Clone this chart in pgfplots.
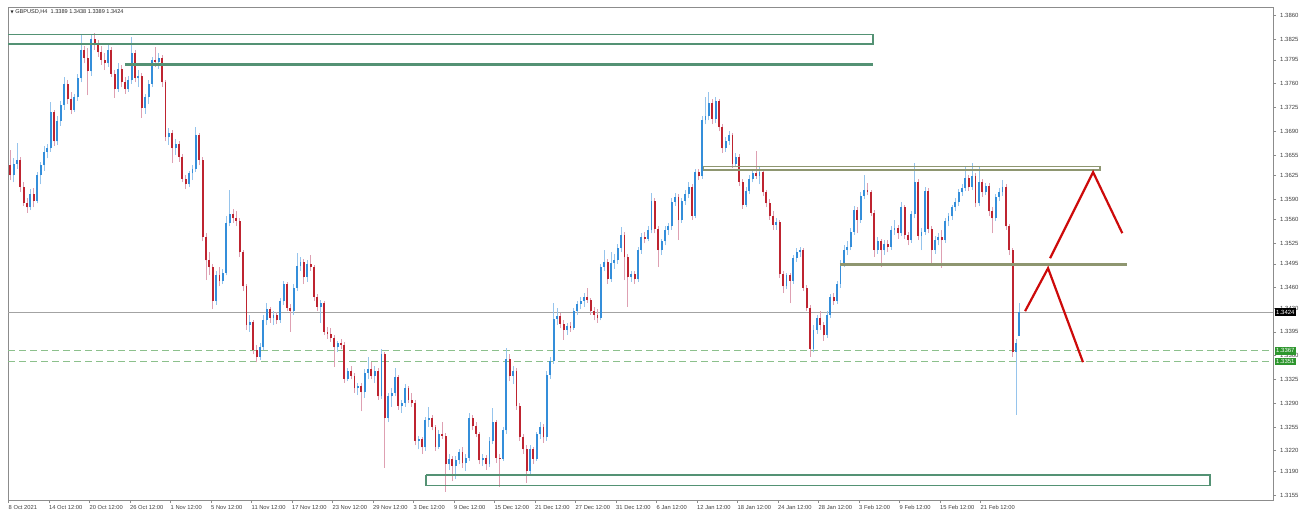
\documentclass[border=0pt]{standalone}
\usepackage{pgfplots}
\usepackage{pgfplotstable}
\pgfplotsset{compat=1.18}
\usepackage{fontspec}
\setmainfont{Liberation Sans}
\newfontfamily\dejavu{DejaVu Sans}
\definecolor{upbody}{RGB}{52,142,218}
\definecolor{upwick}{RGB}{150,196,236}
\definecolor{dnbody}{RGB}{190,36,48}
\definecolor{dnwick}{RGB}{222,160,178}
\definecolor{zonegreen}{RGB}{84,146,116}
\definecolor{olivez}{RGB}{142,150,112}
\definecolor{dashgreen}{RGB}{140,192,140}
\definecolor{lblgreen}{RGB}{46,150,46}
\definecolor{arrowred}{RGB}{205,10,10}
\definecolor{framegray}{RGB}{140,140,140}

\pgfplotstableread{
x o h l c
1 1.3640 1.3662 1.3618 1.3625
3 1.3625 1.3650 1.3615 1.3642
5 1.3642 1.3673 1.3635 1.3648
7 1.3648 1.3652 1.3600 1.3608
9 1.3608 1.3615 1.3580 1.3585
11 1.3585 1.3592 1.3570 1.3578
13 1.3578 1.3605 1.3574 1.3598
15 1.3598 1.3606 1.3578 1.3588
17 1.3588 1.3630 1.3584 1.3625
19 1.3625 1.3645 1.3612 1.3640
21 1.3640 1.3668 1.3632 1.3660
23 1.3660 1.3672 1.3650 1.3665
25 1.3665 1.3733 1.3660 1.3718
27 1.3718 1.3722 1.3668 1.3675
29 1.3675 1.3712 1.3670 1.3705
31 1.3705 1.3735 1.3698 1.3728
33 1.3728 1.3770 1.3722 1.3760
35 1.3760 1.3765 1.3730 1.3738
37 1.3738 1.3748 1.3715 1.3722
39 1.3722 1.3745 1.3718 1.3740
41 1.3740 1.3775 1.3735 1.3768
43 1.3768 1.3832 1.3762 1.3810
45 1.3810 1.3815 1.3790 1.3798
47 1.3798 1.3812 1.3743 1.3778
49 1.3778 1.3832 1.3772 1.3826
51 1.3826 1.3835 1.3810 1.3818
53 1.3818 1.3825 1.3800 1.3806
55 1.3806 1.3815 1.3788 1.3795
57 1.3795 1.3805 1.3780 1.3790
59 1.3790 1.3818 1.3785 1.3810
61 1.3810 1.3814 1.3770 1.3775
63 1.3775 1.3780 1.3739 1.3752
65 1.3752 1.3790 1.3748 1.3782
67 1.3782 1.3788 1.3755 1.3762
69 1.3762 1.3770 1.3745 1.3752
71 1.3752 1.3772 1.3748 1.3765
73 1.3765 1.3829 1.3760 1.3805
75 1.3805 1.3810 1.3762 1.3768
77 1.3768 1.3780 1.3755 1.3772
79 1.3772 1.3776 1.3710 1.3724
81 1.3724 1.3745 1.3716 1.3740
83 1.3740 1.3765 1.3730 1.3760
85 1.3760 1.3800 1.3755 1.3795
87 1.3795 1.3814 1.3785 1.3792
89 1.3792 1.3805 1.3782 1.3798
91 1.3798 1.3802 1.3755 1.3762
93 1.3762 1.3766 1.3675 1.3682
95 1.3682 1.3695 1.3670 1.3688
97 1.3688 1.3692 1.3643 1.3665
99 1.3665 1.3678 1.3655 1.3672
101 1.3672 1.3676 1.3645 1.3652
103 1.3652 1.3656 1.3615 1.3620
105 1.3620 1.3626 1.3605 1.3612
107 1.3612 1.3632 1.3608 1.3628
109 1.3628 1.3640 1.3618 1.3635
111 1.3635 1.3696 1.3630 1.3684
113 1.3684 1.3688 1.3640 1.3648
115 1.3648 1.3652 1.3528 1.3535
117 1.3535 1.3540 1.3471 1.3500
119 1.3500 1.3512 1.3478 1.3490
121 1.3490 1.3495 1.3428 1.3440
123 1.3440 1.3485 1.3435 1.3478
125 1.3478 1.3490 1.3462 1.3470
127 1.3470 1.3488 1.3465 1.3482
129 1.3482 1.3565 1.3478 1.3555
131 1.3555 1.3604 1.3550 1.3568
133 1.3568 1.3575 1.3555 1.3562
135 1.3562 1.3572 1.3550 1.3558
137 1.3558 1.3562 1.3505 1.3512
139 1.3512 1.3515 1.3455 1.3462
141 1.3462 1.3466 1.3398 1.3405
143 1.3405 1.3420 1.3395 1.3410
145 1.3410 1.3412 1.3362 1.3368
147 1.3368 1.3375 1.3350 1.3358
149 1.3358 1.3378 1.3354 1.3372
151 1.3372 1.3420 1.3368 1.3412
153 1.3412 1.3437 1.3405 1.3428
155 1.3428 1.3432 1.3408 1.3415
157 1.3415 1.3425 1.3405 1.3420
159 1.3420 1.3424 1.3406 1.3412
161 1.3412 1.3445 1.3408 1.3440
163 1.3440 1.3470 1.3435 1.3465
165 1.3465 1.3468 1.3425 1.3430
167 1.3430 1.3436 1.3395 1.3426
169 1.3426 1.3465 1.3420 1.3460
171 1.3460 1.3511 1.3455 1.3492
173 1.3492 1.3505 1.3485 1.3498
175 1.3498 1.3502 1.3465 1.3475
177 1.3475 1.3500 1.3468 1.3495
179 1.3495 1.3508 1.3485 1.3490
181 1.3490 1.3494 1.3440 1.3446
183 1.3446 1.3450 1.3425 1.3432
185 1.3432 1.3442 1.3408 1.3438
187 1.3438 1.3441 1.3390 1.3395
189 1.3395 1.3402 1.3385 1.3392
191 1.3392 1.3400 1.3380 1.3386
193 1.3386 1.3390 1.3343 1.3372
195 1.3372 1.3382 1.3365 1.3378
197 1.3378 1.3385 1.3370 1.3376
199 1.3376 1.3380 1.3320 1.3326
201 1.3326 1.3342 1.3322 1.3338
203 1.3338 1.3345 1.3325 1.3330
205 1.3330 1.3334 1.3305 1.3312
207 1.3312 1.3320 1.3302 1.3315
209 1.3315 1.3320 1.3278 1.3306
211 1.3306 1.3340 1.3298 1.3335
213 1.3335 1.3358 1.3325 1.3340
215 1.3340 1.3350 1.3325 1.3330
217 1.3330 1.3345 1.3320 1.3338
219 1.3338 1.3342 1.3295 1.3300
221 1.3300 1.3369 1.3296 1.3362
223 1.3362 1.3366 1.3195 1.3268
225 1.3268 1.3305 1.3262 1.3300
227 1.3300 1.3312 1.3285 1.3305
229 1.3305 1.3342 1.3300 1.3328
231 1.3328 1.3332 1.3280 1.3286
233 1.3286 1.3295 1.3276 1.3290
235 1.3290 1.3318 1.3285 1.3312
237 1.3312 1.3316 1.3290 1.3295
239 1.3295 1.3305 1.3285 1.3290
241 1.3290 1.3294 1.3228 1.3235
243 1.3235 1.3242 1.3222 1.3238
245 1.3238 1.3240 1.3215 1.3225
247 1.3225 1.3270 1.3220 1.3265
249 1.3265 1.3285 1.3255 1.3268
251 1.3268 1.3272 1.3250 1.3255
253 1.3255 1.3258 1.3220 1.3226
255 1.3226 1.3250 1.3222 1.3245
257 1.3245 1.3262 1.3238 1.3242
259 1.3242 1.3246 1.3160 1.3200
261 1.3200 1.3215 1.3192 1.3208
263 1.3208 1.3212 1.3175 1.3198
265 1.3198 1.3212 1.3178 1.3206
267 1.3206 1.3222 1.3200 1.3218
269 1.3218 1.3225 1.3195 1.3202
271 1.3202 1.3215 1.3190 1.3210
273 1.3210 1.3276 1.3205 1.3268
275 1.3268 1.3272 1.3250 1.3256
277 1.3256 1.3262 1.3240 1.3245
279 1.3245 1.3248 1.3200 1.3206
281 1.3206 1.3215 1.3198 1.3210
283 1.3210 1.3214 1.3192 1.3200
285 1.3200 1.3240 1.3196 1.3235
287 1.3235 1.3283 1.3230 1.3262
289 1.3262 1.3266 1.3202 1.3210
291 1.3210 1.3215 1.3167 1.3208
293 1.3208 1.3255 1.3205 1.3250
295 1.3250 1.3371 1.3245 1.3355
297 1.3355 1.3362 1.3322 1.3330
299 1.3330 1.3345 1.3318 1.3338
301 1.3338 1.3342 1.3280 1.3286
303 1.3286 1.3290 1.3235 1.3240
305 1.3240 1.3245 1.3215 1.3222
307 1.3222 1.3228 1.3173 1.3190
309 1.3190 1.3228 1.3185 1.3222
311 1.3222 1.3226 1.3200 1.3208
313 1.3208 1.3248 1.3205 1.3244
315 1.3244 1.3262 1.3238 1.3255
317 1.3255 1.3260 1.3232 1.3240
319 1.3240 1.3338 1.3235 1.3332
321 1.3332 1.3358 1.3326 1.3352
323 1.3352 1.3437 1.3348 1.3414
325 1.3414 1.3430 1.3405 1.3418
327 1.3418 1.3422 1.3400 1.3406
329 1.3406 1.3412 1.3383 1.3398
331 1.3398 1.3408 1.3390 1.3404
333 1.3404 1.3410 1.3395 1.3400
335 1.3400 1.3430 1.3398 1.3425
337 1.3425 1.3440 1.3420 1.3436
339 1.3436 1.3446 1.3428 1.3440
341 1.3440 1.3452 1.3432 1.3446
343 1.3446 1.3459 1.3438 1.3442
345 1.3442 1.3445 1.3420 1.3425
347 1.3425 1.3432 1.3412 1.3420
349 1.3420 1.3428 1.3408 1.3416
351 1.3416 1.3495 1.3412 1.3490
353 1.3490 1.3515 1.3484 1.3498
355 1.3498 1.3502 1.3466 1.3472
357 1.3472 1.3512 1.3468 1.3496
359 1.3496 1.3510 1.3488 1.3500
361 1.3500 1.3524 1.3495 1.3518
363 1.3518 1.3549 1.3512 1.3538
365 1.3538 1.3542 1.3471 1.3505
367 1.3505 1.3510 1.3432 1.3475
369 1.3475 1.3485 1.3468 1.3480
371 1.3480 1.3484 1.3465 1.3472
373 1.3472 1.3520 1.3468 1.3515
375 1.3515 1.3540 1.3510 1.3535
377 1.3535 1.3542 1.3525 1.3532
379 1.3532 1.3550 1.3528 1.3545
381 1.3545 1.3599 1.3540 1.3588
383 1.3588 1.3592 1.3540 1.3546
385 1.3546 1.3550 1.3490 1.3515
387 1.3515 1.3532 1.3508 1.3528
389 1.3528 1.3550 1.3522 1.3545
391 1.3545 1.3555 1.3538 1.3550
393 1.3550 1.3592 1.3545 1.3586
395 1.3586 1.3599 1.3580 1.3594
397 1.3594 1.3598 1.3530 1.3560
399 1.3560 1.3592 1.3555 1.3588
401 1.3588 1.3604 1.3582 1.3598
403 1.3598 1.3615 1.3592 1.3608
405 1.3608 1.3612 1.3560 1.3566
407 1.3566 1.3635 1.3562 1.3630
409 1.3630 1.3634 1.3618 1.3624
411 1.3624 1.3712 1.3620 1.3706
413 1.3706 1.3740 1.3700 1.3712
415 1.3712 1.3748 1.3706 1.3732
417 1.3732 1.3738 1.3700 1.3708
419 1.3708 1.3740 1.3702 1.3734
421 1.3734 1.3738 1.3690 1.3696
423 1.3696 1.3700 1.3658 1.3665
425 1.3665 1.3682 1.3660 1.3676
427 1.3676 1.3690 1.3670 1.3684
429 1.3684 1.3688 1.3636 1.3642
431 1.3642 1.3658 1.3638 1.3652
433 1.3652 1.3656 1.3610 1.3616
435 1.3616 1.3620 1.3576 1.3582
437 1.3582 1.3608 1.3578 1.3602
439 1.3602 1.3625 1.3598 1.3620
441 1.3620 1.3635 1.3615 1.3628
443 1.3628 1.3661 1.3620 1.3624
445 1.3624 1.3638 1.3612 1.3630
447 1.3630 1.3633 1.3595 1.3600
449 1.3600 1.3604 1.3578 1.3584
451 1.3584 1.3590 1.3560 1.3566
453 1.3566 1.3572 1.3545 1.3552
455 1.3552 1.3562 1.3545 1.3556
457 1.3556 1.3560 1.3474 1.3480
459 1.3480 1.3484 1.3452 1.3462
461 1.3462 1.3482 1.3458 1.3478
463 1.3478 1.3482 1.3437 1.3470
465 1.3470 1.3508 1.3466 1.3504
467 1.3504 1.3518 1.3498 1.3512
469 1.3512 1.3520 1.3505 1.3516
471 1.3516 1.3519 1.3455 1.3460
473 1.3460 1.3464 1.3425 1.3430
475 1.3430 1.3434 1.3358 1.3370
477 1.3370 1.3405 1.3365 1.3398
479 1.3398 1.3420 1.3392 1.3415
481 1.3415 1.3425 1.3398 1.3405
483 1.3405 1.3410 1.3382 1.3390
485 1.3390 1.3425 1.3386 1.3420
487 1.3420 1.3450 1.3415 1.3446
489 1.3446 1.3452 1.3435 1.3440
491 1.3440 1.3470 1.3436 1.3466
493 1.3466 1.3500 1.3460 1.3495
495 1.3495 1.3522 1.3490 1.3515
497 1.3515 1.3528 1.3508 1.3520
499 1.3520 1.3548 1.3515 1.3542
501 1.3542 1.3580 1.3538 1.3574
503 1.3574 1.3578 1.3540 1.3560
505 1.3560 1.3600 1.3555 1.3595
507 1.3595 1.3626 1.3590 1.3604
509 1.3604 1.3614 1.3596 1.3600
511 1.3600 1.3604 1.3565 1.3570
513 1.3570 1.3574 1.3505 1.3515
515 1.3515 1.3535 1.3510 1.3528
517 1.3528 1.3532 1.3490 1.3515
519 1.3515 1.3530 1.3508 1.3524
521 1.3524 1.3530 1.3512 1.3520
523 1.3520 1.3550 1.3516 1.3545
525 1.3545 1.3560 1.3538 1.3548
527 1.3548 1.3552 1.3532 1.3540
529 1.3540 1.3586 1.3536 1.3578
531 1.3578 1.3582 1.3532 1.3538
533 1.3538 1.3542 1.3522 1.3530
535 1.3530 1.3572 1.3526 1.3568
537 1.3568 1.3643 1.3562 1.3615
539 1.3615 1.3620 1.3530 1.3536
541 1.3536 1.3548 1.3515 1.3542
543 1.3542 1.3608 1.3538 1.3602
545 1.3602 1.3606 1.3540 1.3546
547 1.3546 1.3550 1.3496 1.3515
549 1.3515 1.3536 1.3510 1.3530
551 1.3530 1.3540 1.3522 1.3534
553 1.3534 1.3545 1.3489 1.3530
555 1.3530 1.3562 1.3526 1.3558
557 1.3558 1.3570 1.3550 1.3565
559 1.3565 1.3582 1.3560 1.3578
561 1.3578 1.3592 1.3572 1.3586
563 1.3586 1.3605 1.3580 1.3600
565 1.3600 1.3612 1.3595 1.3606
567 1.3606 1.3638 1.3602 1.3622
569 1.3622 1.3626 1.3602 1.3608
571 1.3608 1.3643 1.3604 1.3624
573 1.3624 1.3628 1.3578 1.3584
575 1.3584 1.3638 1.3580 1.3616
577 1.3616 1.3620 1.3594 1.3600
579 1.3600 1.3614 1.3596 1.3610
581 1.3610 1.3614 1.3565 1.3572
583 1.3572 1.3578 1.3540 1.3562
585 1.3562 1.3598 1.3558 1.3594
587 1.3594 1.3606 1.3588 1.3600
589 1.3600 1.3618 1.3595 1.3608
591 1.3608 1.3612 1.3545 1.3550
593 1.3550 1.3554 1.3508 1.3515
595 1.3515 1.3518 1.3358 1.3365
597 1.3365 1.3385 1.3273 1.3378
599 1.3389 1.3438 1.3389 1.3424
}\candles

\begin{document}
\begin{tikzpicture}
\useasboundingbox (0,0) rectangle (1300bp,519bp);
\begin{axis}[
  at={(8bp,19bp)}, anchor=south west,
  scale only axis, width=1265bp, height=492.5bp,
  xmin=-0.3, xmax=749.3, ymin=1.31476, ymax=1.38721,
  clip=false,
  axis line style={draw=framegray, line width=0.8bp},
  tick style={draw=framegray, line width=0.6bp},
  tick align=outside, major tick length=3bp,
  xtick pos=bottom, ytick pos=right, yticklabel pos=right,
  xtick={0,24,...,576},
  xticklabels={8 Oct 2021,14 Oct 12:00,20 Oct 12:00,26 Oct 12:00,1 Nov 12:00,5 Nov 12:00,11 Nov 12:00,17 Nov 12:00,23 Nov 12:00,29 Nov 12:00,3 Dec 12:00,9 Dec 12:00,15 Dec 12:00,21 Dec 12:00,27 Dec 12:00,31 Dec 12:00,6 Jan 12:00,12 Jan 12:00,18 Jan 12:00,24 Jan 12:00,28 Jan 12:00,3 Feb 12:00,9 Feb 12:00,15 Feb 12:00,21 Feb 12:00},
  ytick={1.3155,1.3190,1.3220,1.3255,1.3290,1.3325,1.3360,1.3395,1.3430,1.3460,1.3495,1.3525,1.3560,1.3590,1.3625,1.3655,1.3690,1.3725,1.3760,1.3795,1.3825,1.3860},
  yticklabels={1.3155,1.3190,1.3220,1.3255,1.3290,1.3325,1.3360,1.3395,1.3430,1.3460,1.3495,1.3525,1.3560,1.3590,1.3625,1.3655,1.3690,1.3725,1.3760,1.3795,1.3825,1.3860},
  xticklabel style={font=\fontsize{5.8}{7}\selectfont, anchor=north west, inner sep=0bp, yshift=-2.5bp, text=black!75},
  yticklabel style={font=\fontsize{6}{7}\selectfont, anchor=west, inner sep=0bp, xshift=4bp, text=black!75},
  candle/.style={forget plot, only marks, mark=*, mark size=0.01pt, mark options={draw=none, fill=none, draw opacity=0, fill opacity=0}, restrict y to domain=1.2:1.5},
]
% horizontal price lines
\addplot[forget plot, draw=framegray!80, line width=0.7bp] coordinates {(-0.3,1.3424) (749.3,1.3424)};
\addplot[forget plot, draw=dashgreen, line width=0.8bp, dash pattern=on 7bp off 4bp] coordinates {(-0.3,1.3367) (749.3,1.3367)};
\addplot[forget plot, draw=dashgreen, line width=0.8bp, dash pattern=on 7bp off 4bp] coordinates {(-0.3,1.3351) (749.3,1.3351)};

% wicks
\addplot[candle,
  error bars/.cd, y dir=plus, y explicit, error mark=none,
  error bar style={draw=upwick, line width=0.7bp}]
  table[x=x, y expr={\thisrow{c}<\thisrow{o} ? 0 : \thisrow{l}}, y error plus expr={\thisrow{h}-\thisrow{l}}] {\candles};
\addplot[candle,
  error bars/.cd, y dir=plus, y explicit, error mark=none,
  error bar style={draw=dnwick, line width=0.7bp}]
  table[x=x, y expr={\thisrow{c}<\thisrow{o} ? \thisrow{l} : 0}, y error plus expr={\thisrow{h}-\thisrow{l}}] {\candles};
% bodies
\addplot[candle,
  error bars/.cd, y dir=plus, y explicit, error mark=none,
  error bar style={draw=upbody, line width=1.9bp}]
  table[x=x, y expr={\thisrow{c}<\thisrow{o} ? 0 : \thisrow{o}}, y error plus expr={\thisrow{c}-\thisrow{o}}] {\candles};
\addplot[candle,
  error bars/.cd, y dir=plus, y explicit, error mark=none,
  error bar style={draw=dnbody, line width=1.9bp}]
  table[x=x, y expr={\thisrow{c}<\thisrow{o} ? \thisrow{c} : 0}, y error plus expr={\thisrow{o}-\thisrow{c}}] {\candles};

% zones
\addplot[forget plot, draw=zonegreen, line width=1.2bp] coordinates {(-0.3,1.38327) (512.3,1.38327) (512.3,1.38184) (-0.3,1.38184)};
\addplot[forget plot, draw=zonegreen, line width=3bp] coordinates {(69,1.37885) (512.3,1.37885)};
\addplot[forget plot, draw=olivez, line width=1.1bp] coordinates {(411.6,1.36378) (646.8,1.36378) (646.8,1.36331) (411.6,1.36331) (411.6,1.36378)};
\addplot[forget plot, draw=olivez, line width=3bp] coordinates {(492.7,1.34934) (662.8,1.34934)};
\addplot[forget plot, draw=zonegreen, line width=1.2bp] coordinates {(247.4,1.31845) (712,1.31845) (712,1.3169) (247.4,1.3169) (247.4,1.31845)};
% drawn scenario
\addplot[forget plot, draw=arrowred, line width=2.2bp] coordinates {(602.4,1.34254) (616.0,1.34886) (636.7,1.33504)};
\addplot[forget plot, draw=arrowred, line width=2.2bp] coordinates {(617.2,1.35033) (642.7,1.36298) (660.0,1.35401)};

% price labels
\node[fill=black, text=white, font=\fontsize{6}{7}\selectfont, inner xsep=1.5bp, inner ysep=0bp, minimum height=8bp, anchor=west] at (axis cs:749.3,1.3424) [xshift=1.5bp] {1.3424};
\node[fill=lblgreen, text=white, font=\fontsize{6}{7}\selectfont, inner xsep=1.5bp, inner ysep=0bp, minimum height=7.5bp, anchor=west] at (axis cs:749.3,1.3367) [xshift=1.5bp] {1.3367};
\node[fill=lblgreen, text=white, font=\fontsize{6}{7}\selectfont, inner xsep=1.5bp, inner ysep=0bp, minimum height=7.5bp, anchor=west] at (axis cs:749.3,1.3351) [xshift=1.5bp] {1.3351};
% title
\node[anchor=north west, font=\fontsize{5.6}{6.5}\selectfont, inner sep=0pt, text=black!85] at (rel axis cs:0,1) [xshift=2.5bp, yshift=-2.2bp] {{\dejavu\fontsize{4}{5}\selectfont ▼}\ GBPUSD,H4\ \ 1.3389 1.3438 1.3389 1.3424};
\end{axis}
\end{tikzpicture}
\end{document}
